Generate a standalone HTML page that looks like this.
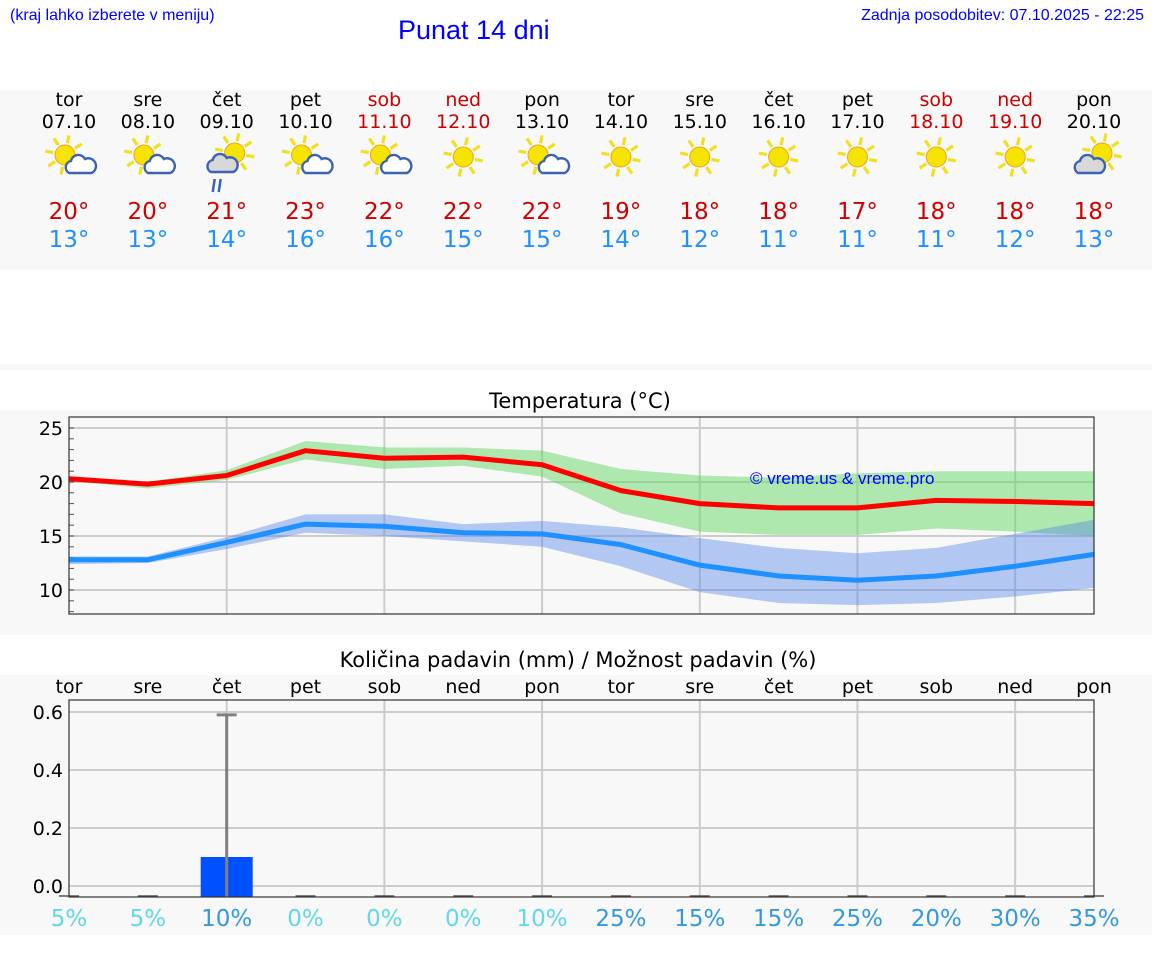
<!DOCTYPE html>
<html><head><meta charset="utf-8"><style>
body{margin:0;width:1152px;height:975px;background:#fff;font-family:"DejaVu Sans","Liberation Sans",sans-serif;position:relative;overflow:hidden}
.a{position:absolute}
</style></head><body>
<div class="a" style="left:10px;top:7px;font-size:16px;color:#00f;font-family:'Liberation Sans',sans-serif">(kraj lahko izberete v meniju)</div>
<div class="a" style="left:398px;top:15px;font-size:27px;color:#00f;font-family:'Liberation Sans',sans-serif">Punat 14 dni</div>
<div class="a" style="right:8px;top:7px;font-size:16px;color:#00f;font-family:'Liberation Sans',sans-serif">Zadnja posodobitev: 07.10.2025 - 22:25</div>
<div class="a" style="left:0;top:90px;width:1152px;height:180px;background:#f8f8f8"></div>
<div class="a" style="left:0;top:364px;width:1152px;height:6px;background:#f8f8f8"></div>
<div class="a" style="left:0;top:410px;width:1152px;height:225px;background:#f8f8f8"></div>
<div class="a" style="left:0;top:675px;width:1152px;height:260px;background:#f8f8f8"></div>
<div id="fc"></div>
<svg class="a" style="left:0;top:0" width="1152" height="975" id="sv"></svg>
<script>
const days=["tor","sre","čet","pet","sob","ned","pon","tor","sre","čet","pet","sob","ned","pon"];
const dates=["07.10","08.10","09.10","10.10","11.10","12.10","13.10","14.10","15.10","16.10","17.10","18.10","19.10","20.10"];
const icons=["pc","pc","rain","pc","pc","sun","pc","sun","sun","sun","sun","sun","sun","cloudy"];
const tmax=[20,20,21,23,22,22,22,19,18,18,17,18,18,18];
const tmin=[13,13,14,16,16,15,15,14,12,11,11,11,12,13];
const maxLine=[20.3,19.8,20.6,22.9,22.2,22.3,21.6,19.2,18.0,17.6,17.6,18.3,18.2,18.0];
const maxHi=[20.4,20.0,21.1,23.8,23.2,23.2,22.9,21.2,20.6,20.4,20.8,21.0,21.0,21.0];
const maxLo=[20.1,19.4,20.2,22.1,21.2,21.5,20.5,17.1,15.4,15.1,15.1,15.7,15.4,15.0];
const minLine=[12.8,12.8,14.4,16.1,15.9,15.3,15.2,14.2,12.3,11.3,10.9,11.3,12.2,13.3];
const minHi=[13.1,13.1,14.9,17.0,17.0,16.1,16.4,15.8,14.8,13.9,13.4,13.9,15.2,16.5];
const minLo=[12.4,12.5,13.8,15.3,15.0,14.5,14.0,12.2,9.8,8.8,8.6,8.8,9.4,10.2];
const precip=[0,0,0.1,0,0,0,0,0,0,0,0,0,0,0];
const precipMax=[0,0,0.59,0,0,0,0,0,0,0,0,0,0,0];
const chance=[5,5,10,0,0,0,10,25,15,15,25,20,30,35];
const tTicks=[10,15,20,25];
const pTicks=[0,0.2,0.4,0.6];
const X0=69,X1=1094;
const x=i=>X0+i*(X1-X0)/13;
const ty=t=>590-(t-10)*10.8;
const py=v=>886-v*290;
const weekend=i=>days[i]=="sob"||days[i]=="ned";
const NS="http://www.w3.org/2000/svg";
const sv=document.getElementById('sv');
function el(tag,attrs,parent){const e=document.createElementNS(NS,tag);for(const k in attrs)e.setAttribute(k,attrs[k]);(parent||sv).appendChild(e);return e;}
function txt(s,attrs){const e=el('text',attrs);e.textContent=s;return e;}
function sun(g,cx,cy,r){for(let k=0;k<8;k++){const a=k*Math.PI/4+0.2;el('line',{x1:cx+Math.cos(a)*(r+2),y1:cy+Math.sin(a)*(r+2),x2:cx+Math.cos(a)*(r+10),y2:cy+Math.sin(a)*(r+10),stroke:'#f0e020','stroke-width':3.2},g);}el('circle',{cx:cx,cy:cy,r:r,fill:'#f5e400',stroke:'#f0a020','stroke-width':1},g);}
function cloud(g,cx,cy,fill){el('path',{d:`M${cx-12},${cy+9} a6.5,6.5 0 0 1 2,-12 a7.5,7.5 0 0 1 14,-2 a6.5,6.5 0 0 1 6.5,14 z`,fill:fill,stroke:'#3a63b0','stroke-width':2.4},g);}
const fc=document.getElementById('fc');
for(let i=0;i<14;i++){
  const cx=x(i);const col=weekend(i)?'#c00':'#000';
  const d=document.createElement('div');d.className='a';
  
  
  d.style.cssText=`left:${cx-40}px;top:89px;width:80px;text-align:center;font-size:19px;line-height:22px;color:${col}`;
  d.innerHTML=days[i]+'<br>'+dates[i];fc.appendChild(d);
  const t=document.createElement('div');t.className='a';
  
  
  t.style.cssText=`left:${cx-40}px;top:198px;width:80px;text-align:center;font-size:23px;line-height:28px`;
  t.innerHTML=`<span style="color:#d00000">${tmax[i]}°</span><br><span style="color:#1e90ff">${tmin[i]}°</span>`;fc.appendChild(t);
  const g=el('g',{});
  
  
  if(icons[i]=='sun'){sun(g,cx,157,10);}
  else if(icons[i]=='pc'){sun(g,cx-4,155,10);cloud(g,cx+12,164,'#fff');}
  else if(icons[i]=='rain'){sun(g,cx+8,153,10);cloud(g,cx-4,163,'#d8d8d8');el('path',{d:`M${cx-12},179 l-2,13 M${cx-6},179 l-2,13`,stroke:'#3a63b0','stroke-width':2.5},g);}
  else {sun(g,cx+8,153,10);cloud(g,cx-4,164,'#d8d8d8');}
}
// temperature chart
txt('Temperatura (°C)',{x:580,y:408,'text-anchor':'middle','font-size':21,fill:'#000',});
el('rect',{x:X0,y:417,width:X1-X0,height:197,fill:'#f8f8f8'});
for(const t of tTicks){el('line',{x1:X0,x2:X1,y1:ty(t),y2:ty(t),stroke:'#ccc','stroke-width':2});const l=txt(t,{x:63,y:ty(t)+7,'text-anchor':'end','font-size':19,fill:'#000'});}
for(let t=8;t<=25;t++){el('line',{x1:X0,x2:X0+5,y1:ty(t),y2:ty(t),stroke:'#555','stroke-width':1});}
for(let i=2;i<14;i+=2)el('line',{x1:x(i),x2:x(i),y1:417,y2:614,stroke:'#ccc','stroke-width':2});
function band(hi,lo,fill,name){let d='M'+hi.map((v,i)=>x(i)+','+ty(v)).join(' L');d+=' L'+lo.map((v,i)=>x(i)+','+ty(v)).reverse().join(' L')+'Z';const p=el('path',{d:d,fill:fill});}
band(maxHi,maxLo,'rgba(100,215,100,0.5)','max-temp-range');
band(minHi,minLo,'rgba(80,130,230,0.42)','min-temp-range');
function line(v,c,name){const p=el('polyline',{points:v.map((t,i)=>x(i)+','+ty(t)).join(' '),fill:'none',stroke:c,'stroke-width':5,'stroke-linejoin':'round'});}
line(maxLine,'#ff0000','max-temp-line');line(minLine,'#1e90ff','min-temp-line');
el('rect',{x:X0,y:417,width:X1-X0,height:197,fill:'none',stroke:'#333','stroke-width':1.2});
txt('© vreme.us & vreme.pro',{x:750,y:484,'font-size':17,fill:'#00f','font-family':'Liberation Sans,sans-serif',});
// precip chart
txt('Količina padavin (mm) / Možnost padavin (%)',{x:578,y:667,'text-anchor':'middle','font-size':21,fill:'#000',});
el('rect',{x:X0,y:700,width:X1-X0,height:197,fill:'#f8f8f8'});
for(const t of pTicks){el('line',{x1:X0,x2:X1,y1:py(t),y2:py(t),stroke:'#ccc','stroke-width':2});const l=txt(t.toFixed(1),{x:63,y:py(t)+7,'text-anchor':'end','font-size':19,fill:'#000'});}
for(let i=2;i<14;i+=2)el('line',{x1:x(i),x2:x(i),y1:700,y2:897,stroke:'#ccc','stroke-width':2});
for(let i=0;i<14;i++){
  const l=txt(days[i],{x:x(i),y:693,'text-anchor':'middle','font-size':19,fill:'#000'});
  
  
  el('line',{x1:x(i)-10,x2:x(i)+10,y1:896,y2:896,stroke:'#555','stroke-width':1.5});
  if(precip[i]>0){const b=el('rect',{x:x(i)-26,y:py(precip[i]),width:52,height:897-py(precip[i]),fill:'#0050ff'});}
  if(precipMax[i]>0){const e=el('path',{d:`M${x(i)},897 V${py(precipMax[i])} M${x(i)-10},${py(precipMax[i])} H${x(i)+10}`,stroke:'#808080','stroke-width':3,fill:'none'});}
  const dark=(chance[i]>=15)||precip[i]>0;
  const c=txt(chance[i]+'%',{x:x(i),y:926,'text-anchor':'middle','font-size':23,fill:dark?'#3399dd':'#5fd8ea'});
  
  
}
el('rect',{x:X0,y:700,width:X1-X0,height:197,fill:'none',stroke:'#333','stroke-width':1.2});
</script>
</body></html>
